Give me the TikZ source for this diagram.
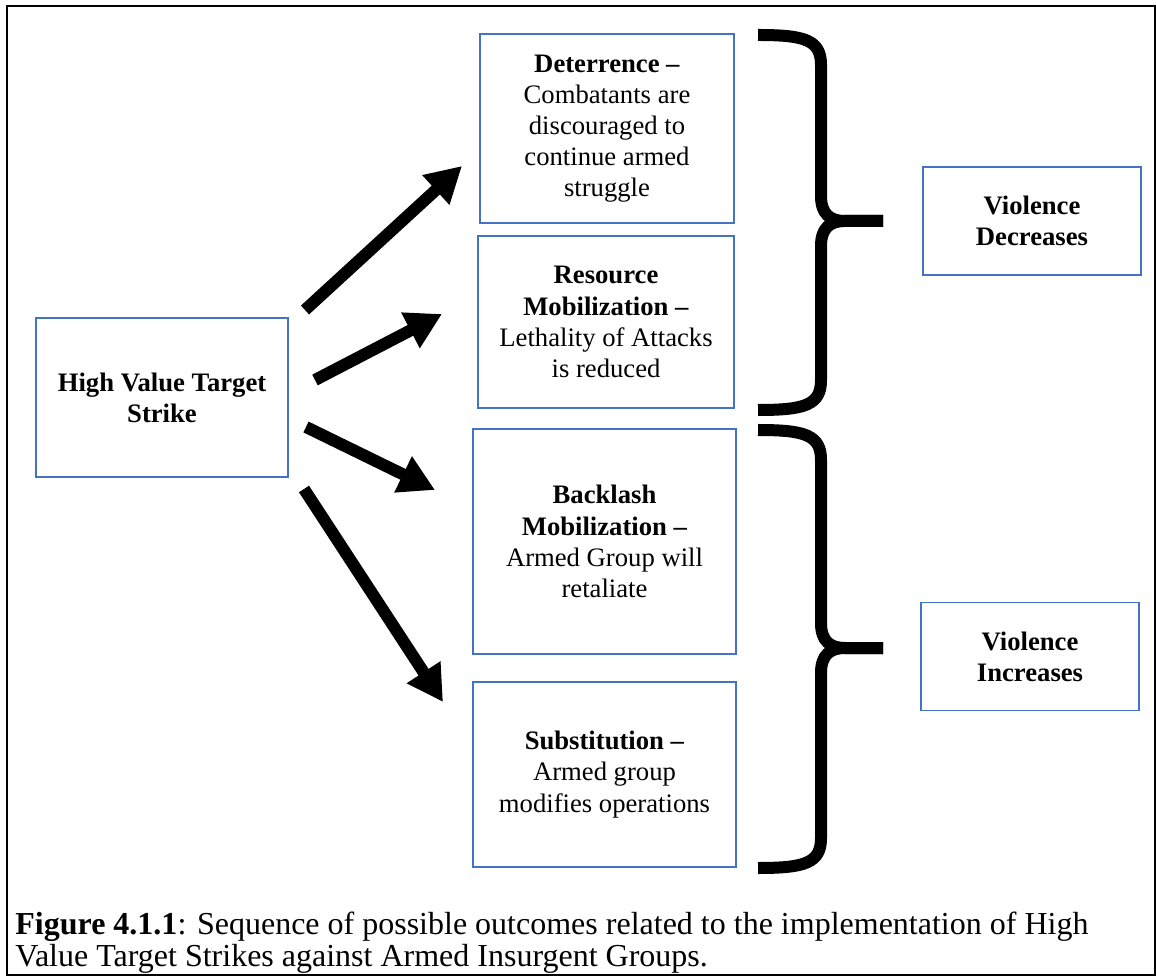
\documentclass[tikz,border=0pt]{standalone}
\usepackage{fontspec}
\setmainfont{Liberation Serif}
\usetikzlibrary{arrows.meta}
\definecolor{boxblue}{RGB}{68,114,196}
\newcommand{\pxu}{0.45pt}

\begin{document}
\begin{tikzpicture}[x=0.45pt, y=-0.45pt,
    box/.style={draw=boxblue, line width=0.7pt, align=center, inner sep=0pt,
      font=\fontsize{12}{14}\selectfont},
    arr/.style={line width=5.4pt, -{Triangle[length=16pt, width=17pt]}},
    brace/.style={line width=5.4pt}]
    \useasboundingbox (0,0) rectangle (1156,977);
    \draw[line width=1.2pt] (7,6) rectangle (1155,975);
    \node[box, minimum width=252*\pxu, minimum height=159*\pxu] (hvt) at (162,397.5)
      {\textbf{High Value Target}\\\textbf{Strike}};
    \node[box, minimum width=254*\pxu, minimum height=189*\pxu] (det) at (607,128.5)
      {\textbf{Deterrence –}\\Combatants are\\discouraged to\\continue armed\\struggle};
    \node[box, minimum width=256*\pxu, minimum height=172*\pxu] (res) at (606,322)
      {\textbf{Resource}\\\textbf{Mobilization –}\\Lethality of Attacks\\is reduced};
    \node[box, minimum width=263*\pxu, minimum height=225*\pxu] (back) at (604.5,541.5)
      {\textbf{Backlash}\\\textbf{Mobilization –}\\Armed Group will\\retaliate};
    \node[box, minimum width=263*\pxu, minimum height=185*\pxu] (subs) at (604.5,774.5)
      {\textbf{Substitution –}\\Armed group\\modifies operations};
    \node[box, minimum width=218*\pxu, minimum height=108*\pxu] (vdec) at (1032,221)
      {\textbf{Violence}\\\textbf{Decreases}};
    \node[box, minimum width=218*\pxu, minimum height=108*\pxu] (vinc) at (1030,656.5)
      {\textbf{Violence}\\\textbf{Increases}};
    % arrows out of the strike box
    \coordinate (s1) at (305,310); \coordinate (e1) at (462,166);
    \coordinate (s2) at (315,380); \coordinate (e2) at (442,314);
    \coordinate (s3) at (306,427); \coordinate (e3) at (435,490);
    \coordinate (s4) at (304,489); \coordinate (e4) at (443,702);
    \draw[arr] (s1)--(e1);
    \draw[arr] (s2)--(e2);
    \draw[arr] (s3)--(e3);
    \draw[arr] (s4)--(e4);
    % braces
    \draw[brace] (758,35) .. controls (805,35) and (821,40) .. (821,65) -- (821,196)
      .. controls (821,214) and (830,221) .. (845,221) -- (883,221);
    \draw[brace] (883,221) -- (845,221) .. controls (830,221) and (821,228) .. (821,246)
      -- (821,380) .. controls (821,405) and (805,410) .. (758,410);
    \draw[brace] (758,430) .. controls (805,430) and (821,435) .. (821,460) -- (821,623)
      .. controls (821,641) and (830,648) .. (845,648) -- (883,648);
    \draw[brace] (883,648) -- (845,648) .. controls (830,648) and (821,655) .. (821,673)
      -- (821,838) .. controls (821,863) and (805,868) .. (758,868);
    % caption
    \node[anchor=base west, align=left, inner sep=0pt, font=\fontsize{14.4}{12.6}\selectfont] (cap) at (15,966)
      {\textbf{Figure 4.1.1}: Sequence of possible outcomes related to the implementation of High\\
       Value Target Strikes against Armed Insurgent Groups.};
  \end{tikzpicture}
\end{document}
